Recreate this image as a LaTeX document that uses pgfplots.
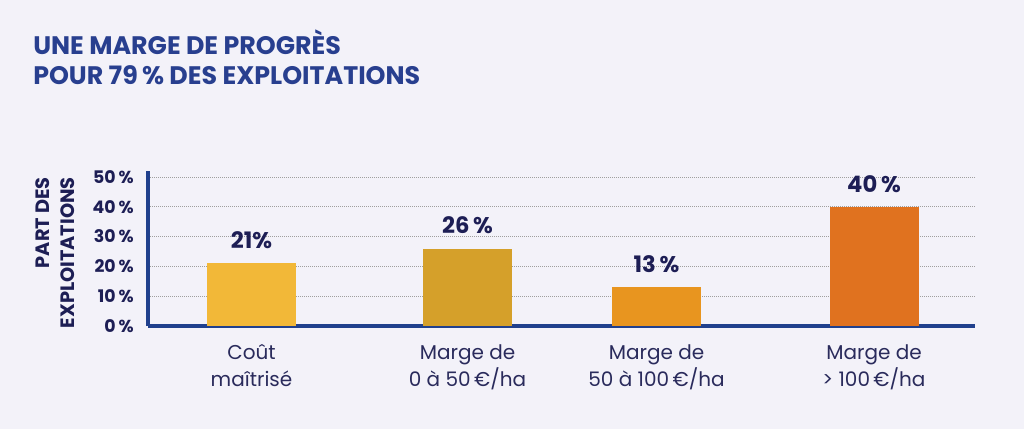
\documentclass[border=0pt]{standalone}
\usepackage{pgfplots}
\pgfplotsset{compat=1.18}
\usepackage{fontspec}
\setmainfont{Poppins}
\definecolor{bg}{HTML}{F3F2F9}
\definecolor{titleblue}{HTML}{283F8F}
\definecolor{axisblue}{HTML}{20408D}
\definecolor{darknavy}{HTML}{1D1E55}
\definecolor{catnavy}{HTML}{2A2B5C}
\definecolor{barA}{HTML}{F2B838}
\definecolor{barB}{HTML}{D5A02A}
\definecolor{barC}{HTML}{E8951F}
\definecolor{barD}{HTML}{E0721F}
\begin{document}
\begin{tikzpicture}
\path[use as bounding box, fill=bg] (0,0) rectangle (768pt,321.75pt);
\node[anchor=base west, inner sep=0pt, text=titleblue, font=\bfseries\fontsize{19}{22}\selectfont] at (24.75pt,280.5pt) {UNE MARGE DE PROGRÈS};
\node[anchor=base west, inner sep=0pt, text=titleblue, font=\bfseries\fontsize{19}{22}\selectfont] at (24.75pt,258pt) {POUR 79\,\% DES EXPLOITATIONS};
\node[rotate=90, anchor=north east, align=right, inner sep=0pt, text=darknavy, font=\bfseries\fontsize{14.5}{18.75}\selectfont] at (26.25pt,189pt) {PART DES\\EXPLOITATIONS};
\begin{axis}[
  at={(111pt,77.25pt)}, anchor=south west,
  scale only axis, width=620.25pt, height=116.25pt,
  xmin=148, xmax=975, ymin=0, ymax=52,
  axis x line*=bottom, axis y line*=left,
  axis line style={-, line width=2.5pt, axisblue},
  major tick length=0pt,
  ytick={0,10,20,30,40,50},
  yticklabels={0\,\%,10\,\%,20\,\%,30\,\%,40\,\%,50\,\%},
  yticklabel style={anchor=east, inner sep=0pt, xshift=-10.5pt, text=darknavy, font=\bfseries\fontsize{13}{15}\selectfont},
  ymajorgrids,
  grid style={gray!75, line width=0.6pt, dash pattern=on 0.6pt off 0.9pt},
  xtick={251.5,467.5,656.5,874},
  xticklabels={{Coût\\maîtrisé},{Marge de\\0 à 50\,€/ha},{Marge de\\50 à 100\,€/ha},{Marge de\\> 100\,€/ha}},
  xticklabel style={align=center, anchor=north, inner sep=0pt, yshift=-14pt, text=catnavy, font=\fontsize{15}{20}\selectfont},
  ybar, bar width=66.75pt, bar shift=0pt,
  point meta=explicit symbolic,
  nodes near coords,
  every node near coord/.append style={anchor=base, inner sep=0pt, yshift=11pt, text=darknavy, font=\bfseries\fontsize{17}{20}\selectfont},
  clip=false,
]
\addplot[fill=barA, draw=none] coordinates {(251.5,21) [21\%]};
\addplot[fill=barB, draw=none] coordinates {(467.5,26) [26\,\%]};
\addplot[fill=barC, draw=none] coordinates {(656.5,13) [13\,\%]};
\addplot[fill=barD, draw=none] coordinates {(874,40) [40\,\%]};
\end{axis}
\end{tikzpicture}
\end{document}
